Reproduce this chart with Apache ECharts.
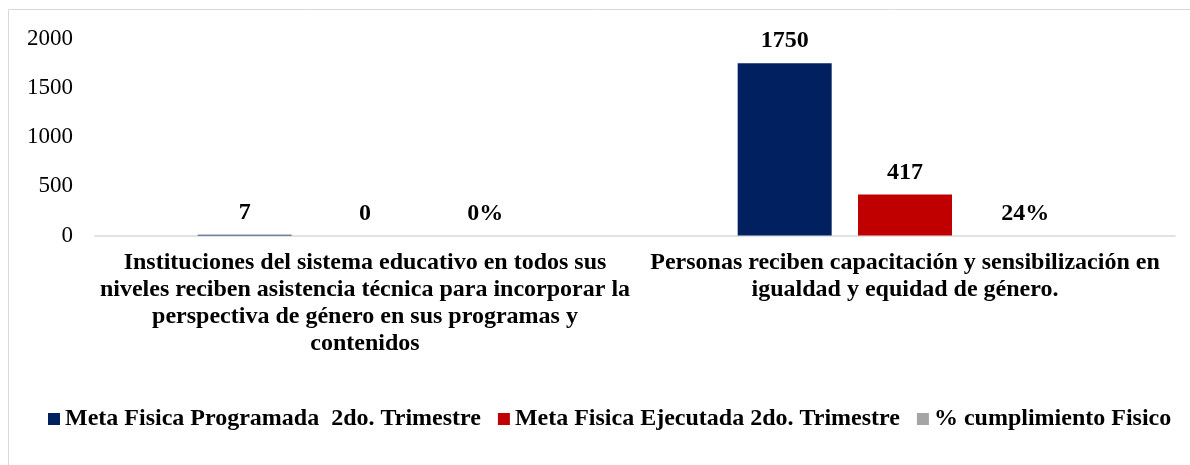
<!DOCTYPE html>
<html>
<head>
<meta charset="utf-8">
<script src="https://cdn.jsdelivr.net/npm/echarts@6/dist/echarts.min.js"></script>
<style>
  html, body { margin: 0; padding: 0; background: #fff; }
  #chart { width: 1190px; height: 465px; }
</style>
</head>
<body>
<div id="chart"></div>
<script>
// datos del grafico
var categorias = [
  'Instituciones del sistema educativo en todos sus\nniveles reciben asistencia técnica para incorporar la\nperspectiva de género en sus programas y\ncontenidos',
  'Personas reciben capacitación y sensibilización en\nigualdad y equidad de género.'
];
var metaProgramada = [7, 1750];
var metaEjecutada = [0, 417];
var cumplimiento = [0, 0.24];
var ticksY = [0, 500, 1000, 1500, 2000];

var fuente = "'Liberation Serif', 'Times New Roman', serif";

var chart = echarts.init(document.getElementById('chart'));

var etiqueta = {
  show: true,
  position: 'top',
  distance: 10,
  color: '#000',
  fontFamily: fuente,
  fontSize: 24,
  fontWeight: 'bold'
};

chart.setOption({
  animation: false,
  textStyle: { fontFamily: fuente },
  graphic: [{
    type: 'rect',
    shape: { x: 8.5, y: 9.5, width: 1200, height: 500 },
    style: { fill: 'none', stroke: '#d9d9d9', lineWidth: 1 },
    silent: true
  }],
  grid: {
    left: 95,
    right: 15,
    top: 38.5,
    bottom: 229.5
  },
  legend: {
    left: 43,
    top: 402,
    icon: 'rect',
    itemWidth: 12,
    itemHeight: 12,
    itemGap: 17,
    textStyle: {
      color: '#000',
      fontFamily: fuente,
      fontSize: 24,
      fontWeight: 'bold'
    },
    data: ['Meta Fisica Programada  2do. Trimestre', 'Meta Fisica Ejecutada 2do. Trimestre', '% cumplimiento Fisico']
  },
  xAxis: {
    type: 'category',
    data: categorias,
    axisTick: { show: false },
    axisLine: { lineStyle: { color: '#d9d9d9', width: 1.5 } },
    axisLabel: {
      interval: 0,
      margin: 14,
      color: '#000',
      fontFamily: fuente,
      fontSize: 24,
      fontWeight: 'bold',
      lineHeight: 27,
      align: 'center'
    }
  },
  yAxis: {
    type: 'value',
    min: ticksY[0],
    max: ticksY[ticksY.length - 1],
    interval: 500,
    axisLine: { show: false },
    axisTick: { show: false },
    splitLine: { show: false },
    axisLabel: {
      margin: 22,
      color: '#000',
      fontFamily: fuente,
      fontSize: 23,
      formatter: function (v) { return String(v); }
    }
  },
  series: [
    {
      name: 'Meta Fisica Programada  2do. Trimestre',
      type: 'bar',
      data: metaProgramada,
      barWidth: 94,
      barGap: '28%',
      itemStyle: { color: '#002060' },
      label: etiqueta
    },
    {
      name: 'Meta Fisica Ejecutada 2do. Trimestre',
      type: 'bar',
      data: metaEjecutada,
      barWidth: 94,
      barGap: '28%',
      itemStyle: { color: '#C00000' },
      label: etiqueta
    },
    {
      name: '% cumplimiento Fisico',
      type: 'bar',
      data: cumplimiento,
      barWidth: 94,
      barGap: '28%',
      itemStyle: { color: '#A5A5A5' },
      label: Object.assign({}, etiqueta, {
        formatter: function (p) { return Math.round(p.value * 100) + '%'; }
      })
    }
  ]
});
</script>
</body>
</html>
